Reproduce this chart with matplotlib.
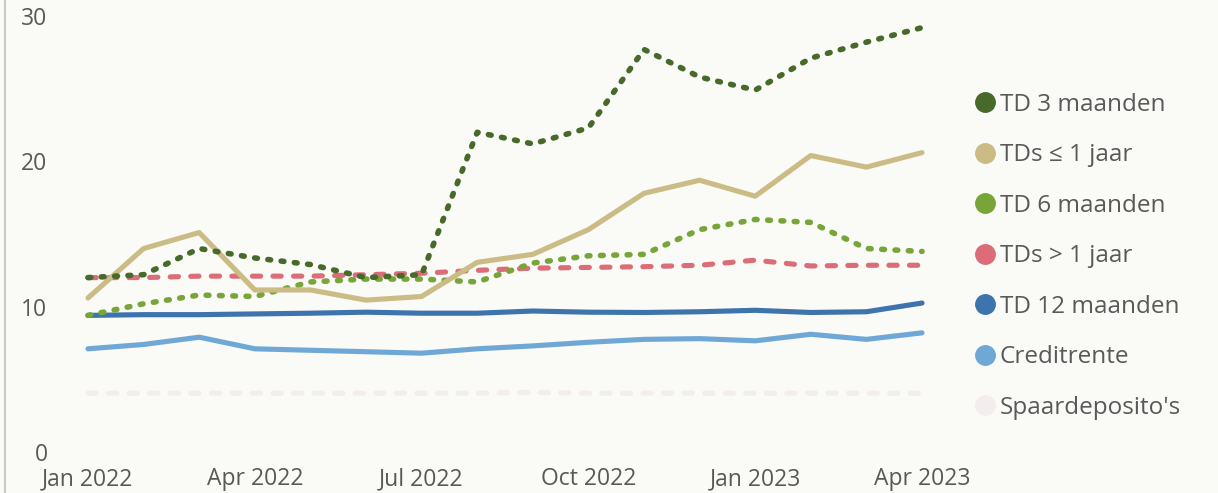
import numpy as np
import matplotlib
matplotlib.use("Agg")
from matplotlib import pyplot as plt
from matplotlib.lines import Line2D

# monthly data, Jan 2022 .. Apr 2023
months = ["Jan 2022", "Feb 2022", "Mar 2022", "Apr 2022", "May 2022", "Jun 2022",
          "Jul 2022", "Aug 2022", "Sep 2022", "Oct 2022", "Nov 2022", "Dec 2022",
          "Jan 2023", "Feb 2023", "Mar 2023", "Apr 2023"]
tick_labels = ["Jan 2022", "Apr 2022", "Jul 2022", "Oct 2022", "Jan 2023", "Apr 2023"]

td_3m = [12.0, 12.2, 14.0, 13.35, 12.9, 12.0, 12.2, 22.0, 21.2, 22.3, 27.7, 25.8, 24.9, 27.1, 28.2, 29.2]
tds_le_1j = [10.6, 14.0, 15.1, 11.15, 11.15, 10.45, 10.7, 13.05, 13.6, 15.3, 17.8, 18.7, 17.6, 20.4, 19.6, 20.6]
td_6m = [9.4, 10.2, 10.8, 10.7, 11.7, 11.9, 11.9, 11.7, 13.0, 13.5, 13.6, 15.3, 16.0, 15.8, 14.0, 13.8]
tds_gt_1j = [12.0, 12.0, 12.1, 12.1, 12.1, 12.2, 12.3, 12.5, 12.65, 12.7, 12.75, 12.85, 13.2, 12.8, 12.85, 12.85]
td_12m = [9.4, 9.45, 9.45, 9.5, 9.55, 9.62, 9.55, 9.55, 9.7, 9.62, 9.6, 9.65, 9.75, 9.6, 9.65, 10.25]
creditrente = [7.1, 7.4, 7.9, 7.1, 7.0, 6.9, 6.8, 7.1, 7.3, 7.55, 7.75, 7.8, 7.65, 8.1, 7.75, 8.2]
spaardeposito = [4.05, 4.05, 4.05, 4.05, 4.05, 4.05, 4.05, 4.05, 4.1, 4.05, 4.05, 4.05, 4.05, 4.05, 4.05, 4.05]

names = ["TD 3 maanden", "TDs \u2264 1 jaar", "TD 6 maanden", "TDs > 1 jaar",
         "TD 12 maanden", "Creditrente", "Spaardeposito's"]
colors = ["#476a2a", "#cbbb85", "#78a53a", "#dc6d78", "#3e74ad", "#6fa8d6", "#f4eded"]

dotted = (0, (0.5, 1.9))
dashed = (0, (1.6, 2.4))
styles = [dotted, "-", dotted, dashed, "-", "-", dashed]
series = [td_3m, tds_le_1j, td_6m, tds_gt_1j, td_12m, creditrente, spaardeposito]

bg = "#fafaf7"
txt = "#595959"
plt.rcParams['font.family'] = ['Open Sans', 'DejaVu Sans']

W, H = 1218, 493
fig = plt.figure(figsize=(W / 100, H / 100), dpi=100, facecolor=bg)
# axes in pixel positions: x 60..950, y value 0 at 452 px, 30 at 16 px
ax = fig.add_axes([60 / W, (H - 452) / H, 890 / W, 436 / H], facecolor=bg)

x = np.arange(len(months))
order = [6, 5, 4, 3, 2, 1, 0]
for i in order:
    lw = 4.0 if styles[i] is dotted else 3.7
    ax.plot(x, series[i], color=colors[i], lw=lw, linestyle=styles[i],
            solid_capstyle="round", dash_capstyle="round", solid_joinstyle="round",
            clip_on=False, zorder=2 + (6 - i))

step = 55.6
ax.set_xlim(-28 / step, 15 + 28 / step)
ax.set_ylim(0, 30)
ax.set_yticks([0, 10, 20, 30])
ax.set_xticks([months.index(t) for t in tick_labels])
ax.set_xticklabels(tick_labels)
ax.tick_params(axis="both", length=0, labelsize=16.5, colors=txt)
ax.tick_params(axis="x", pad=11)
ax.tick_params(axis="y", pad=9)
for s in ax.spines.values():
    s.set_visible(False)

# frame line at the left edge
fig.add_artist(Line2D([5 / W, 5 / W], [0, 1], color="#c8c8c8", lw=1.5))

handles = [Line2D([], [], marker="o", linestyle="none", markersize=14,
                  markerfacecolor=c, markeredgecolor=c) for c in colors]
fig.legend(handles, names, loc="upper left", bbox_to_anchor=(967 / W, 1 - 83 / H),
           frameon=False, fontsize=17.5, labelcolor=txt, handlelength=0.7,
           handletextpad=0.25, labelspacing=1.09, borderaxespad=0)

fig.savefig("out.png", dpi=100, facecolor=bg)
